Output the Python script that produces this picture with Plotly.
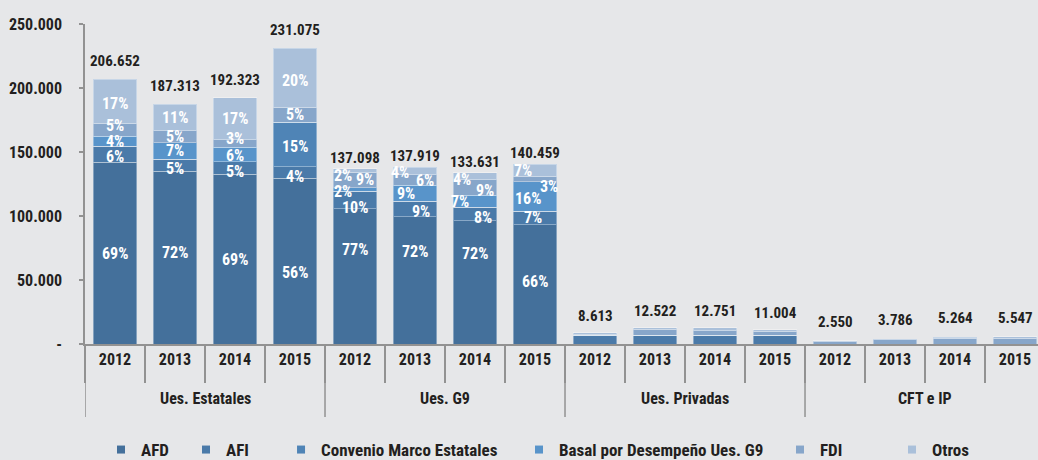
import plotly.graph_objects as go

# ---------------- data ----------------
GROUPS = ["Ues. Estatales", "Ues. G9", "Ues. Privadas", "CFT e IP"]
YEARS = ["2012", "2013", "2014", "2015"]

TOTALS = [206652, 187313, 192323, 231075,
          137098, 137919, 133631, 140459,
          8613, 12522, 12751, 11004,
          2550, 3786, 5264, 5547]

AFD = [141900, 134865, 132703, 129402,
       105565, 99302, 96214, 93265,
       0, 0, 0, 0,
       0, 0, 0, 0]
AFI = [12600, 9366, 9616, 9243,
       13710, 12413, 10690, 10394,
       6800, 6800, 6800, 6800,
       0, 0, 0, 0]
CONVENIO = [0, 0, 0, 34661,
            0, 0, 0, 0,
            0, 0, 0, 0,
            0, 0, 0, 0]
BASAL = [8000, 13112, 11539, 0,
         2742, 12413, 9354, 23035,
         0, 0, 0, 0,
         0, 0, 0, 0]
FDI = [9900, 9366, 5770, 11554,
       12339, 8275, 12027, 4495,
       1000, 4700, 3700, 3100,
       1900, 3500, 4400, 4600]
OTROS = [34252, 20604, 32695, 46215,
         2742, 5516, 5346, 9270,
         813, 1022, 2251, 1104,
         650, 286, 864, 947]

SERIES = [
    ("AFD", AFD, "#44709b"),
    ("AFI", AFI, "#4a7aa9"),
    ("Convenio Marco Estatales", CONVENIO, "#4f84b6"),
    ("Basal por Desempeño Ues. G9", BASAL, "#5894ca"),
    ("FDI", FDI, "#87a6ca"),
    ("Otros", OTROS, "#aac0da"),
]
LABELLED_GROUPS = ["Ues. Estatales", "Ues. G9"]

# ---------------- styling / placement ----------------
# pixel nudges of some percentage labels (dx right, dy down)
NUDGE = {
    (0, "FDI"): (0, -4), (0, "AFI"): (0, 2), (0, "Otros"): (0, 2),
    (1, "AFD"): (0, -5), (1, "AFI"): (0, 3),
    (2, "AFI"): (0, 4), (2, "Basal por Desempeño Ues. G9"): (0, 1), (2, "FDI"): (0, -5),
    (3, "AFD"): (0, 11), (3, "AFI"): (0, 4), (3, "Convenio Marco Estatales"): (0, 2), (3, "Otros"): (0, 3),
    (4, "AFD"): (0, -27), (4, "AFI"): (0, 7), (4, "Basal por Desempeño Ues. G9"): (-12, 2),
    (4, "FDI"): (10, 0), (4, "Otros"): (-12, 5),
    (5, "AFD"): (0, -29), (5, "AFI"): (6, 3), (5, "Basal por Desempeño Ues. G9"): (-9, 0),
    (5, "FDI"): (10, 1), (5, "Otros"): (-15, 2),
    (6, "AFD"): (0, -29), (6, "AFI"): (8, 3), (6, "Basal por Desempeño Ues. G9"): (-15, 0),
    (6, "FDI"): (10, 3), (6, "Otros"): (-13, 3),
    (7, "AFD"): (0, -3), (7, "AFI"): (-2, 0), (7, "Basal por Desempeño Ues. G9"): (-7, 2),
    (7, "FDI"): (14, 8), (7, "Otros"): (-12, 0),
}
TOTAL_SHIFT = {"Ues. Estatales": 18, "Ues. G9": 11, "Ues. Privadas": 17, "CFT e IP": 19}
LEGEND_X = [0.0168, 0.1060, 0.2057, 0.4554, 0.7293, 0.8468]

FONT = "Roboto Condensed, Liberation Sans Narrow, DejaVu Sans Condensed, sans-serif"
BG = "#e6e7e9"
AXC = "#929292"
TXT = "#231f20"
PLOT_H = 320.0  # px height of plot area (for paper-relative placement below axis)

n = len(TOTALS)
xs = list(range(n))
year_text = [y for _ in GROUPS for y in YEARS]
group_of = [GROUPS[i // len(YEARS)] for i in range(n)]
XMAX = 15.383

fig = go.Figure()
for name, vals, color in SERIES:
    fig.add_trace(go.Bar(
        x=xs, y=vals, name=name, showlegend=False,
        marker=dict(color=color, line=dict(color="rgba(255,255,255,0.35)", width=1)),
        hoverinfo="skip",
    ))
legend_layout = {}
for k, (name, vals, color) in enumerate(SERIES):
    lid = "legend" if k == 0 else f"legend{k + 1}"
    fig.add_trace(go.Scatter(
        x=[None], y=[None], mode="markers", name=name, legend=lid,
        marker=dict(symbol="square", size=8, color=color),
    ))
    legend_layout[lid] = dict(
        orientation="h", x=LEGEND_X[k], xanchor="left", y=-106 / PLOT_H, yanchor="middle",
        bgcolor="rgba(0,0,0,0)", borderwidth=0,
        font=dict(family=FONT, size=17, color=TXT, weight="bold"),
        itemwidth=30,
    )

ann = []
for i in range(n):
    base = 0
    for name, vals, color in SERIES:
        v = vals[i]
        if v > 0 and group_of[i] in LABELLED_GROUPS:
            dx, dy = NUDGE.get((i, name), (0, 0))
            ann.append(dict(
                x=i, y=base + v / 2, xref="x", yref="y",
                text=f"{round(v / TOTALS[i] * 100)}%", showarrow=False,
                xshift=dx, yshift=-dy, yanchor="middle",
                font=dict(family=FONT, size=16, color="white", weight="bold"),
            ))
        base += v
    ann.append(dict(
        x=i, y=TOTALS[i], xref="x", yref="y",
        text=f"{TOTALS[i]:,}".replace(",", "."), showarrow=False,
        yshift=TOTAL_SHIFT[group_of[i]], yanchor="middle",
        font=dict(family=FONT, size=15, color=TXT, weight="bold"),
    ))

# group labels under the years
for g, name in enumerate(GROUPS):
    ann.append(dict(
        x=g * len(YEARS) + (len(YEARS) - 1) / 2, y=-54 / PLOT_H, xref="x", yref="paper",
        text=name, showarrow=False, yanchor="middle",
        font=dict(family=FONT, size=16, color=TXT, weight="bold"),
    ))

# group dividers
shapes = []
for g in range(len(GROUPS)):
    xb = g * len(YEARS) - 0.5
    shapes.append(dict(type="line", xref="x", yref="paper", x0=xb, x1=xb, y0=0, y1=-73 / PLOT_H,
                       line=dict(color=AXC, width=1.5)))

fig.update_layout(
    width=1038, height=460,
    paper_bgcolor=BG, plot_bgcolor=BG,
    margin=dict(l=85, r=0, t=24, b=116, autoexpand=False),
    barmode="stack", bargap=0.28,
    font=dict(family=FONT, size=16, color=TXT),
    xaxis=dict(
        range=[-0.5, XMAX],
        tickmode="array", tickvals=xs, ticktext=year_text, ticks="",
        minor=dict(tickmode="array", tickvals=[i - 0.5 for i in range(n + 1)],
                   ticks="outside", ticklen=37, tickcolor=AXC, tickwidth=1.5, showgrid=False),
        showline=True, linecolor=AXC, linewidth=1.5,
        tickfont=dict(family=FONT, size=16, color=TXT, weight="bold"),
        showgrid=False, zeroline=False,
    ),
    yaxis=dict(
        range=[0, 250000],
        tickvals=[0, 50000, 100000, 150000, 200000, 250000],
        ticktext=["-", "50.000", "100.000", "150.000", "200.000", "250.000"],
        showline=True, linecolor=AXC, linewidth=1.5,
        ticks="outside", ticklen=4, tickcolor=AXC, tickwidth=1.5,
        showgrid=False, zeroline=False, ticklabelstandoff=14,
        tickfont=dict(family=FONT, size=16, color=TXT, weight="bold"),
    ),
    annotations=ann,
    shapes=shapes,
    showlegend=True,
    **legend_layout,
)

fig.write_html("out.html", config={"displayModeBar": False},
               post_script="document.body.style.margin='0';document.body.style.overflow='hidden';")
